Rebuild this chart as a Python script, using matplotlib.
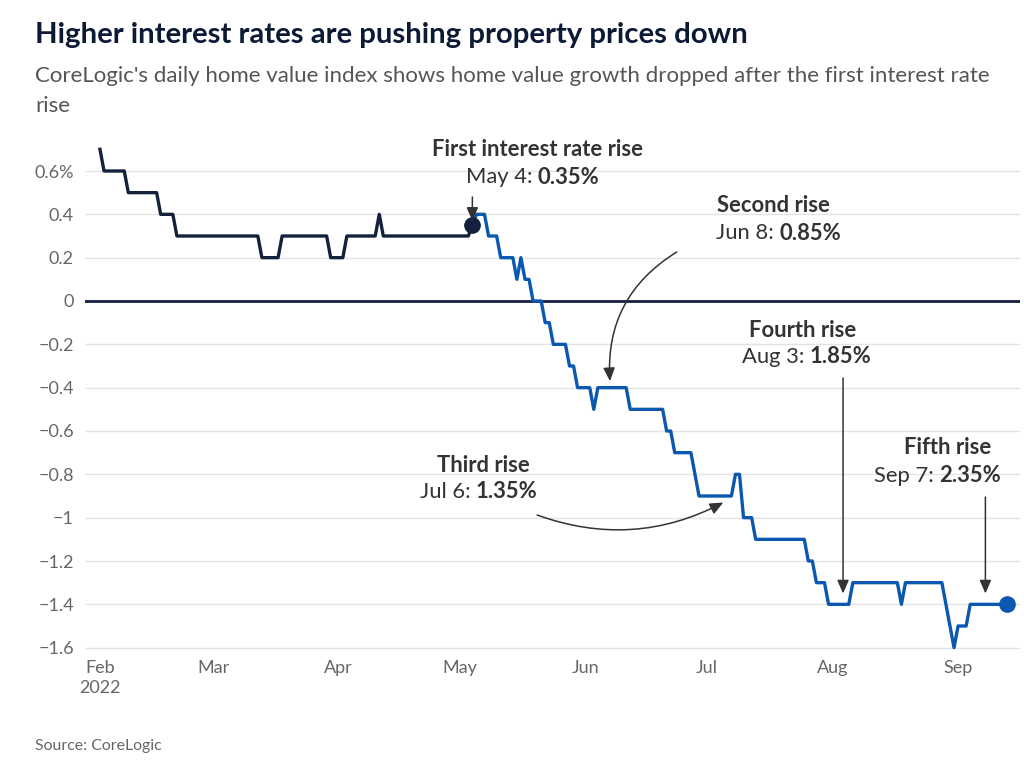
import matplotlib
matplotlib.use('Agg')
import matplotlib.pyplot as plt
import numpy as np
import pandas as pd

# daily change in CoreLogic home value index (%), from 1 Feb 2022
feb = [0.7, 0.6, 0.6, 0.6, 0.6, 0.6, 0.6, 0.5, 0.5, 0.5, 0.5, 0.5, 0.5, 0.5, 0.5,
       0.4, 0.4, 0.4, 0.4, 0.3, 0.3, 0.3, 0.3, 0.3, 0.3, 0.3, 0.3, 0.3]
mar = [0.3, 0.3, 0.3, 0.3, 0.3, 0.3, 0.3, 0.3, 0.3, 0.3, 0.3, 0.3, 0.2, 0.2, 0.2,
       0.2, 0.2, 0.3, 0.3, 0.3, 0.3, 0.3, 0.3, 0.3, 0.3, 0.3, 0.3, 0.3, 0.3, 0.2, 0.2]
apr = [0.2, 0.2, 0.3, 0.3, 0.3, 0.3, 0.3, 0.3, 0.3, 0.3, 0.4, 0.3, 0.3, 0.3, 0.3,
       0.3, 0.3, 0.3, 0.3, 0.3, 0.3, 0.3, 0.3, 0.3, 0.3, 0.3, 0.3, 0.3, 0.3, 0.3]
may = [0.3, 0.3, 0.3, 0.35, 0.4, 0.4, 0.4, 0.3, 0.3, 0.3, 0.2, 0.2, 0.2, 0.2, 0.1,
       0.2, 0.1, 0.1, 0.0, 0.0, 0.0, -0.1, -0.1, -0.2, -0.2, -0.2, -0.2, -0.3, -0.3,
       -0.4, -0.4]
jun = [-0.4, -0.4, -0.5, -0.4, -0.4, -0.4, -0.4, -0.4, -0.4, -0.4, -0.4, -0.5, -0.5,
       -0.5, -0.5, -0.5, -0.5, -0.5, -0.5, -0.5, -0.6, -0.6, -0.7, -0.7, -0.7, -0.7,
       -0.7, -0.8, -0.9, -0.9]
jul = [-0.9, -0.9, -0.9, -0.9, -0.9, -0.9, -0.9, -0.8, -0.8, -1.0, -1.0, -1.0, -1.1,
       -1.1, -1.1, -1.1, -1.1, -1.1, -1.1, -1.1, -1.1, -1.1, -1.1, -1.1, -1.1, -1.2,
       -1.2, -1.3, -1.3, -1.3, -1.4]
aug = [-1.4, -1.4, -1.4, -1.4, -1.4, -1.3, -1.3, -1.3, -1.3, -1.3, -1.3, -1.3, -1.3,
       -1.3, -1.3, -1.3, -1.3, -1.4, -1.3, -1.3, -1.3, -1.3, -1.3, -1.3, -1.3, -1.3,
       -1.3, -1.3, -1.4, -1.5, -1.6]
sep = [-1.5, -1.5, -1.5, -1.4, -1.4, -1.4, -1.4, -1.4, -1.4, -1.4, -1.4, -1.4, -1.4]

values = feb + mar + apr + may + jun + jul + aug + sep
dates = pd.date_range('2022-02-01', periods=len(values), freq='D')

yticks = [0.6, 0.4, 0.2, 0, -0.2, -0.4, -0.6, -0.8, -1, -1.2, -1.4, -1.6]
month_ticks = ['2022-02-01', '2022-03-01', '2022-04-01', '2022-05-01',
               '2022-06-01', '2022-07-01', '2022-08-01', '2022-09-01']
month_labels = ['Feb\n2022', 'Mar', 'Apr', 'May', 'Jun', 'Jul', 'Aug', 'Sep']

# rate rises: (title, date label, cash rate, date)
rises = [
    ('First interest rate rise', 'May 4: ', '0.35%', '2022-05-04'),
    ('Second rise', 'Jun 8: ', '0.85%', '2022-06-08'),
    ('Third rise', 'Jul 6: ', '1.35%', '2022-07-06'),
    ('Fourth rise', 'Aug 3: ', '1.85%', '2022-08-03'),
    ('Fifth rise', 'Sep 7: ', '2.35%', '2022-09-07'),
]

navy = '#14213d'
blue = '#0b58b0'
grey = '#666666'
FONT = 'Lato'

W, H = 1024, 766
fig = plt.figure(figsize=(W / 100, H / 100), dpi=100)

ylo, yhi = -1.62, 0.72
ax = fig.add_axes([85 / W, (H - 652) / H, 935 / W, (652 - 145) / H])

split = 92  # May 4
ax.plot(dates[:split + 1], values[:split + 1], color=navy, lw=2.4, zorder=3)
ax.plot(dates[split:], values[split:], color=blue, lw=2.4, zorder=3)
ax.plot(dates[split], values[split], 'o', color=navy, ms=11, zorder=4)
ax.plot(dates[-1], values[-1], 'o', color=blue, ms=11, zorder=4)

ax.axhline(0, color=navy, lw=2, zorder=2)

ax.set_ylim(ylo, yhi)
ax.set_xlim(pd.Timestamp('2022-02-01') - pd.Timedelta(days=3.7),
            pd.Timestamp('2022-02-01') + pd.Timedelta(days=227.3))
ax.set_yticks(yticks)
ylabels = []
for v in yticks:
    s = ('%g' % v).replace('-', '\u2212')
    if v == yticks[0]:
        s += '%'
    ylabels.append(s)
ax.set_yticklabels(ylabels)
ax.set_xticks(pd.to_datetime(month_ticks))
ax.set_xticklabels(month_labels, linespacing=1.3)
ax.tick_params(length=0, labelsize=13, labelcolor=grey)
ax.tick_params(axis='x', pad=6)
ax.tick_params(axis='y', pad=8)
for lab in ax.get_xticklabels() + ax.get_yticklabels():
    lab.set_fontfamily(FONT)
ax.grid(axis='y', color='#e4e4e4', lw=1, zorder=0)
for s in ax.spines.values():
    s.set_visible(False)


def px(x, y):
    return x / W, 1 - y / H


fig.text(*px(35, 35), 'Higher interest rates are pushing property prices down',
         fontsize=21.2, fontweight='bold', color='#0d1a36', family=FONT, va='center')
fig.text(*px(35, 76), "CoreLogic's daily home value index shows home value growth dropped after the first interest rate",
         fontsize=16, color='#555555', family=FONT, va='center')
fig.text(*px(35, 106), 'rise', fontsize=16, color='#555555', family=FONT, va='center')
fig.text(*px(35, 746), 'Source: CoreLogic', fontsize=11.4, color='#666666',
         family=FONT, va='center')

# label positions (pixels): title centre, split between date and rate
label_pos = [(538, 150, 538, 177), (773, 205, 779, 233), (483, 465, 476, 492),
             (803, 330, 810, 357), (948, 448, 939, 476)]
for (title, dlab, rate, d), (tx, ty, sx, sy) in zip(rises, label_pos):
    fig.text(*px(tx, ty), title, fontsize=15.8, fontweight='bold', color='#333333',
             family=FONT, ha='center', va='center')
    fig.text(*px(sx, sy), dlab, fontsize=15.8, color='#333333', family=FONT,
             ha='right', va='center')
    fig.text(*px(sx, sy), rate, fontsize=15.8, fontweight='bold', color='#333333',
             family=FONT, ha='left', va='center')

# arrows: target (date, value), tail (date, pixel y), curvature
arrows = [('2022-05-04', 0.37, '2022-05-04', 197, 0.0),
          ('2022-06-07', -0.37, '2022-06-23 12:00', 252, 0.3),
          ('2022-07-05', -0.93, '2022-05-20', 515, 0.22),
          ('2022-08-03 14:00', -1.35, '2022-08-03 14:00', 378, 0.0),
          ('2022-09-07 18:00', -1.35, '2022-09-07 18:00', 497, 0.0)]
for d, v, td, ty, rad in arrows:
    ax.annotate('', xy=(pd.Timestamp(d), v), xycoords='data',
                xytext=(pd.Timestamp(td), H - ty), textcoords=('data', 'figure pixels'),
                arrowprops=dict(arrowstyle='-|>,head_length=0.8,head_width=0.35',
                                color='#333333', lw=1.1,
                                connectionstyle='arc3,rad=%s' % rad,
                                shrinkA=0, shrinkB=0),
                zorder=5)

fig.savefig('out.png', dpi=100)
